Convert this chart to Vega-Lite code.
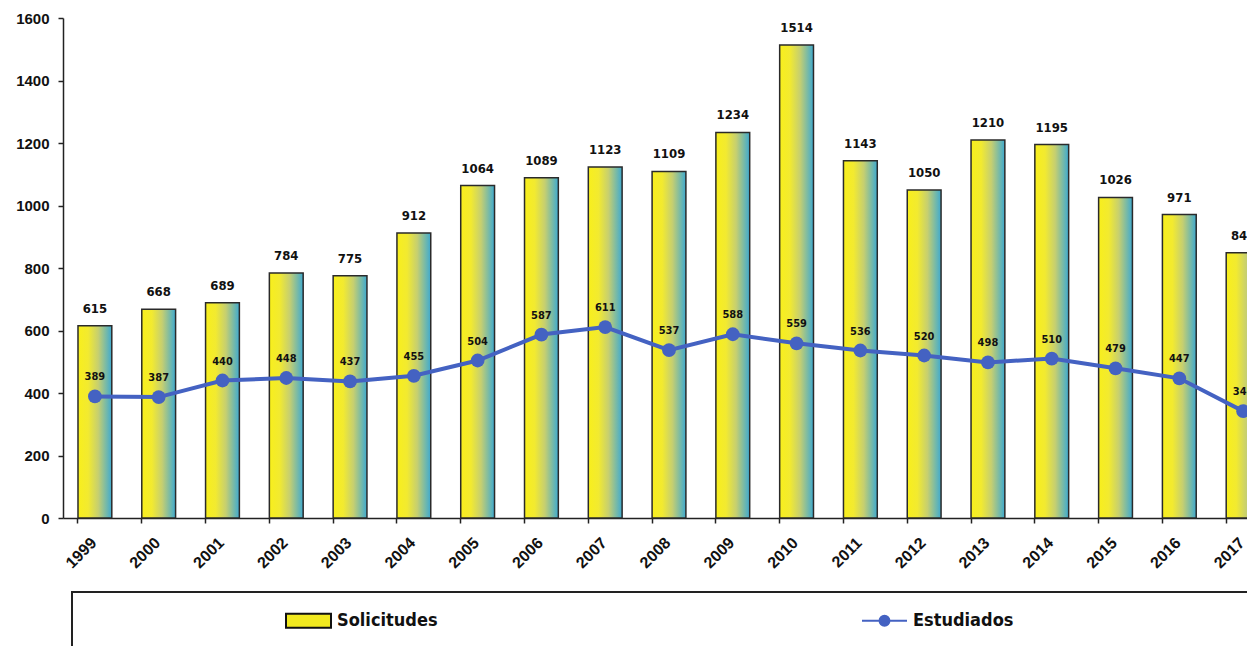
{
  "$schema": "https://vega.github.io/schema/vega-lite/v6.json",
  "autosize": {"type": "none"},
  "padding": {"left": 63, "top": 18, "right": 0, "bottom": 128},
  "width": 1184,
  "height": 500,
  "background": "white",
  "config": {"view": {"stroke": null}},
  "data": {"values": [
    {"year": "1999", "sol": 615, "est": 389},
    {"year": "2000", "sol": 668, "est": 387},
    {"year": "2001", "sol": 689, "est": 440},
    {"year": "2002", "sol": 784, "est": 448},
    {"year": "2003", "sol": 775, "est": 437},
    {"year": "2004", "sol": 912, "est": 455},
    {"year": "2005", "sol": 1064, "est": 504},
    {"year": "2006", "sol": 1089, "est": 587},
    {"year": "2007", "sol": 1123, "est": 611},
    {"year": "2008", "sol": 1109, "est": 537},
    {"year": "2009", "sol": 1234, "est": 588},
    {"year": "2010", "sol": 1514, "est": 559},
    {"year": "2011", "sol": 1143, "est": 536},
    {"year": "2012", "sol": 1050, "est": 520},
    {"year": "2013", "sol": 1210, "est": 498},
    {"year": "2014", "sol": 1195, "est": 510},
    {"year": "2015", "sol": 1026, "est": 479},
    {"year": "2016", "sol": 971, "est": 447},
    {"year": "2017", "sol": 849, "est": 342}
  ]},
  "layer": [
    {
      "mark": {
        "type": "bar",
        "fill": {"gradient": "linear", "x1": 0, "y1": 0, "x2": 1, "y2": 0,
          "stops": [
            {"offset": 0, "color": "#f8ef1c"},
            {"offset": 0.3, "color": "#f2ea30"},
            {"offset": 0.6, "color": "#c6cf70"},
            {"offset": 1, "color": "#3eaad0"}
          ]},
        "stroke": "#2a2a2a",
        "strokeWidth": 1.5
      },
      "encoding": {
        "x": {"field": "year", "type": "ordinal",
          "scale": {"range": [0, 1212], "paddingInner": 0.47, "paddingOuter": 0.235},
          "axis": {"orient": "bottom", "bandPosition": 0, "labels": false, "ticks": true, "tickSize": 5, "tickColor": "#222", "tickWidth": 1.5, "domainColor": "#222", "domainWidth": 1.5, "title": null, "grid": false}},
        "y": {"field": "sol", "type": "quantitative",
          "scale": {"domain": [0, 1600], "nice": false},
          "axis": {"orient": "left", "format": "d", "values": [0, 200, 400, 600, 800, 1000, 1200, 1400, 1600], "title": null, "grid": false, "labelFont": "Arial, Liberation Sans, Helvetica", "labelFontSize": 15, "labelFontWeight": "bold", "labelColor": "#111", "tickSize": 5, "tickColor": "#222", "tickWidth": 1.5, "domainColor": "#222", "domainWidth": 1.5, "labelPadding": 9}}
      }
    },
    {
      "mark": {"type": "text", "baseline": "bottom", "dy": -10, "font": "DejaVu Sans Condensed, Liberation Sans Narrow, Roboto, sans-serif", "fontSize": 13, "fontWeight": "bold", "color": "#111"},
      "encoding": {
        "x": {"field": "year", "type": "ordinal",
          "axis": {"orient": "bottom", "domain": false, "ticks": false, "labelAngle": -45, "labelAlign": "right", "labelBaseline": "middle", "labelFont": "Arial, Liberation Sans, Helvetica", "labelFontSize": 16, "labelFontWeight": "bold", "labelColor": "#111", "labelPadding": 22, "labelOffset": -1, "title": null, "grid": false}},
        "y": {"field": "sol", "type": "quantitative", "axis": null},
        "text": {"field": "sol", "type": "quantitative"}
      }
    },
    {
      "mark": {"type": "line", "strokeWidth": 4},
      "encoding": {
        "x": {"field": "year", "type": "ordinal", "axis": null},
        "y": {"field": "est", "type": "quantitative", "axis": null},
        "stroke": {"datum": "Estudiados",
          "scale": {"domain": ["Solicitudes", "Estudiados"], "range": ["#111111", "#4462c2"]},
          "legend": {
            "orient": "none", "legendX": 9, "legendY": 574, "direction": "horizontal", "title": null,
            "strokeColor": "#222", "padding": 5,
            "symbolSize": 2025, "symbolOffset": 208, "labelOffset": 5, "columnPadding": 215,
            "labelFont": "DejaVu Sans Condensed, Liberation Sans Narrow, Roboto, sans-serif", "labelFontSize": 18, "labelFontWeight": "bold", "labelColor": "#111", "labelLimit": 800,
            "encode": {
              "legend": {"update": {"strokeWidth": {"value": 2}}},
              "symbols": {"update": {
                "shape": [{"test": "datum.value === 'Solicitudes'", "value": "M-1,-0.31H1V0.31H-1ZM0,-0.4M0,1.15"}, {"value": "M-1,0H1M0.22,0A0.22,0.22 0 1 1 -0.22,0A0.22,0.22 0 1 1 0.22,0ZM0,-0.4M17,1.15"}],
                "strokeWidth": {"value": 2},
                "opacity": {"value": 1},
                "size": {"value": 2025}
              }}
            }
          }}
      }
    },
    {
      "mark": {"type": "point", "filled": true, "size": 190, "opacity": 1},
      "encoding": {
        "x": {"field": "year", "type": "ordinal", "axis": null},
        "y": {"field": "est", "type": "quantitative", "axis": null},
        "fill": {"datum": "Estudiados",
          "scale": {"domain": ["Solicitudes", "Estudiados"], "range": ["#f2ea1f", "#4462c2"]},
          "legend": {
            "orient": "none", "legendX": 9, "legendY": 574, "direction": "horizontal", "title": null,
            "strokeColor": "#222", "padding": 5,
            "symbolSize": 2025, "symbolOffset": 208, "labelOffset": 5, "columnPadding": 215,
            "labelFont": "DejaVu Sans Condensed, Liberation Sans Narrow, Roboto, sans-serif", "labelFontSize": 18, "labelFontWeight": "bold", "labelColor": "#111", "labelLimit": 800,
            "encode": {
              "legend": {"update": {"strokeWidth": {"value": 2}}},
              "symbols": {"update": {
                "shape": [{"test": "datum.value === 'Solicitudes'", "value": "M-1,-0.31H1V0.31H-1ZM0,-0.4M0,1.15"}, {"value": "M-1,0H1M0.22,0A0.22,0.22 0 1 1 -0.22,0A0.22,0.22 0 1 1 0.22,0ZM0,-0.4M17,1.15"}],
                "strokeWidth": {"value": 2},
                "opacity": {"value": 1},
                "size": {"value": 2025}
              }}
            }
          }}
      }
    },
    {
      "mark": {"type": "text", "baseline": "bottom", "dy": -14, "font": "DejaVu Sans Condensed, Liberation Sans Narrow, Roboto, sans-serif", "fontSize": 11, "fontWeight": "bold", "color": "#111"},
      "encoding": {
        "x": {"field": "year", "type": "ordinal", "axis": null},
        "y": {"field": "est", "type": "quantitative", "axis": null},
        "text": {"field": "est", "type": "quantitative"}
      }
    }
  ],
  "resolve": {"axis": {"x": "independent", "y": "independent"}}
}
